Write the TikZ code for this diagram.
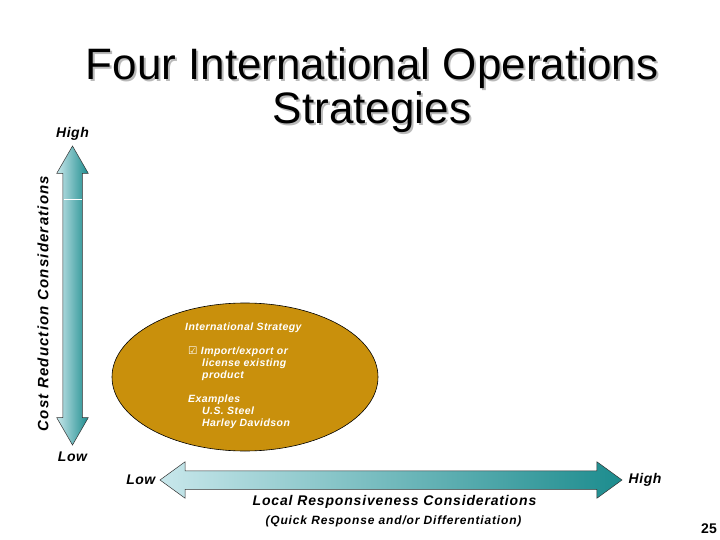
\documentclass[tikz,border=0pt]{standalone}
\usepackage{fontspec}
\setmainfont{Liberation Sans}
\newfontfamily\checkfont{DejaVu Sans}
\usetikzlibrary{shapes.geometric, shapes.arrows, positioning}
\definecolor{axisDark}{RGB}{28,140,142}
\definecolor{axisLight}{RGB}{200,231,235}
\definecolor{stratGold}{RGB}{201,144,12}
\definecolor{shadowGray}{RGB}{185,185,185}
% text with a soft drop shadow
\newcommand{\shadowed}[1]{\leavevmode\rlap{\hspace{2pt}\raisebox{-2pt}{\textcolor{shadowGray}{#1}}}#1}

\begin{document}
\begin{tikzpicture}[
    x=1pt, y=-1pt,
    % Shaded block arrow for an axis
    axisArrow/.style={
        double arrow, draw=black!80, line width=0.5pt,
        inner xsep=0pt, left color=axisLight, right color=axisDark
    },
    % High / Low at the arrow tips
    axisLabel/.style={
        inner sep=0pt,
        font=\fontsize{14}{16}\selectfont\bfseries\itshape\addfontfeatures{LetterSpace=4}
    },
    % Axis titles
    costLabel/.style={
        inner sep=0pt, rotate=90,
        font=\fontsize{15}{17}\selectfont\bfseries\itshape\addfontfeatures{LetterSpace=8}
    },
    localLabel/.style={
        inner sep=0pt,
        font=\fontsize{14}{16}\selectfont\bfseries\itshape\addfontfeatures{LetterSpace=6}
    },
    subLabel/.style={
        inner sep=0pt,
        font=\fontsize{12}{14}\selectfont\bfseries\itshape\addfontfeatures{LetterSpace=7}
    },
    % Strategy oval and its text
    stratOval/.style={
        ellipse, draw=black, line width=0.6pt, fill=stratGold,
        minimum width=266pt, minimum height=148pt, inner sep=0pt
    },
    stratText/.style={
        inner sep=0pt, text=white, align=left,
        font=\fontsize{10.5}{12}\selectfont\bfseries\itshape\addfontfeatures{LetterSpace=4}
    },
    titleText/.style={
        inner sep=0pt, align=center,
        font=\fontsize{44}{41}\selectfont
    }
]
\path[fill=white, use as bounding box] (0,0) rectangle (720,540);
% ── Title ─────────────────────────────────────────────────────
\node[titleText, anchor=north] (title) at (372, 47.5)
    {\shadowed{Four International Operations}\\\shadowed{Strategies}};
% ── Axes ──────────────────────────────────────────────────────
\node[axisArrow, rotate=90, minimum height=299pt, inner ysep=9.5pt,
      double arrow head extend=6pt, double arrow tip angle=60]
    (costAx) at (72.5, 295.5) {};
\draw[white, line width=0.8pt] (63.5, 199) -- (81.5, 199);
\node[axisArrow, minimum height=462pt, inner ysep=9pt,
      double arrow head extend=9pt, double arrow tip angle=72]
    (localAx) at (391, 480) {};
% tip labels
\node[axisLabel, above=5pt of costAx.east] (costHigh) {High};
\node[axisLabel, below=6pt of costAx.west] (costLow) {Low};
\node[axisLabel, left=4pt of localAx.west] (localLow) {Low};
\node[axisLabel, right=6pt of localAx.east] (localHigh) {High};
% axis titles
\node[costLabel] (costTitle) at (43, 303.5) {Cost Reduction Considerations};
\node[localLabel] (localTitle) at (394.5, 502)
    {Local Responsiveness Considerations};
\node[subLabel] (localSub) at (393.5, 521)
    {(Quick Response and/or Differentiation)};
% ── International strategy ────────────────────────────────────
\node[stratOval] (intl) at (245, 377) {};
\node[stratText, anchor=north west] (intlText) at (185, 322.5)
    {International Strategy\\[12pt]
     \hspace*{3pt}{\checkfont\mdseries\upshape ☑} Import/export or\\
     \hspace*{17pt}license existing\\
     \hspace*{17pt}product\\[12pt]
     \hspace*{3pt}Examples\\
     \hspace*{17pt}U.S. Steel\\
     \hspace*{17pt}Harley Davidson};
% page number
\node[inner sep=0pt, font=\fontsize{14}{16}\selectfont\bfseries]
    (page) at (709, 529) {25};
\end{tikzpicture}
\end{document}
